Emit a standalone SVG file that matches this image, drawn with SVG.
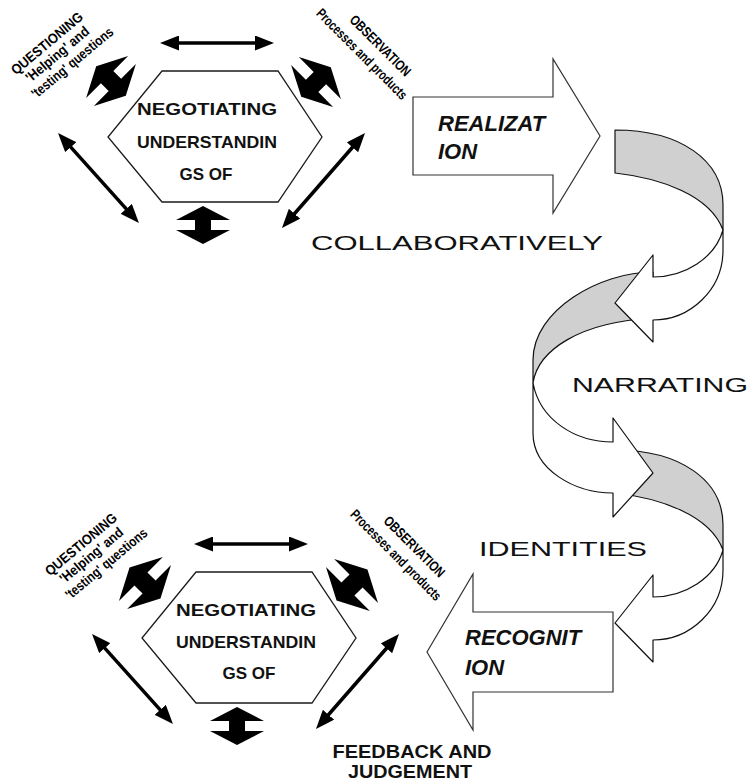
<svg xmlns="http://www.w3.org/2000/svg" width="752" height="783" viewBox="0 0 752 783">
<defs>
<style>
.hex{fill:#fff;stroke:#1a1a1a;stroke-width:1.3}
.ht{font-family:"Liberation Sans",Arial,sans-serif;font-weight:bold;font-size:17px;fill:#111;text-anchor:middle}
.lbl{font-family:"Liberation Sans",Arial,sans-serif;font-weight:bold;font-size:14px;fill:#000;text-anchor:middle}
.blk{fill:#fff;stroke:#333;stroke-width:1.2}
.bt{font-family:"Liberation Sans",Arial,sans-serif;font-weight:bold;font-style:italic;font-size:22px;fill:#111}
.word{font-family:"Liberation Sans",Arial,sans-serif;font-size:20px;fill:#111}
.fb{font-family:"Liberation Sans",Arial,sans-serif;font-weight:bold;font-size:18px;fill:#111;text-anchor:middle}
.rg{fill:#d0d0d0;stroke:#111;stroke-width:1.2;stroke-linejoin:round}
.rw{fill:#fff;stroke:#111;stroke-width:1.2;stroke-linejoin:round}
.dl{stroke:#000;stroke-width:3.5;fill:none}
.fat{fill:#000}
</style>
<marker id="ah" viewBox="0 0 19 15" refX="5" refY="7.5" markerWidth="19" markerHeight="15" markerUnits="userSpaceOnUse" orient="auto-start-reverse"><path d="M0,0 L19,7.5 L0,15 Z" fill="#000"/></marker>
<path id="fatArrow" d="M0,-19 L27,-5 L8,-5 L8,5 L27,5 L0,19 L-27,5 L-8,5 L-8,-5 L-27,-5 Z"/>
</defs>
<rect width="752" height="783" fill="#fff"/>

<!-- top cluster nodes -->
<g id="hexagon-top">
<polygon class="hex" points="162,71 278,71 322,137 278,202 162,202 108,137"/>
<text class="ht" x="207" y="115" textLength="140" lengthAdjust="spacingAndGlyphs">NEGOTIATING</text>
<text class="ht" x="207" y="148" textLength="140" lengthAdjust="spacingAndGlyphs">UNDERSTANDIN</text>
<text class="ht" x="206" y="180">GS OF</text>
</g>
<g id="questioning-top" transform="translate(50,47) rotate(-40)">
<text class="lbl" x="0" y="0" textLength="89" lengthAdjust="spacingAndGlyphs">QUESTIONING</text>
<text class="lbl" x="1" y="15" textLength="78" lengthAdjust="spacingAndGlyphs">'Helping' and</text>
<text class="lbl" x="7" y="31" textLength="102" lengthAdjust="spacingAndGlyphs">'testing' questions</text>
</g>
<g id="observation-top" transform="translate(377,49) rotate(45)">
<text class="lbl" x="0" y="0" textLength="80" lengthAdjust="spacingAndGlyphs">OBSERVATION</text>
<text class="lbl" x="-7" y="19" textLength="122" lengthAdjust="spacingAndGlyphs">Processes and products</text>
</g>

<!-- bottom cluster nodes -->
<g transform="translate(34,501)">
<g id="hexagon-bottom">
<polygon class="hex" points="162,71 278,71 322,137 278,202 162,202 108,137"/>
<text class="ht" x="212" y="115" textLength="140" lengthAdjust="spacingAndGlyphs">NEGOTIATING</text>
<text class="ht" x="212" y="147" textLength="140" lengthAdjust="spacingAndGlyphs">UNDERSTANDIN</text>
<text class="ht" x="215" y="178">GS OF</text>
</g>
<g id="questioning-bottom" transform="translate(50,47) rotate(-40)">
<text class="lbl" x="0" y="0" textLength="89" lengthAdjust="spacingAndGlyphs">QUESTIONING</text>
<text class="lbl" x="1" y="15" textLength="78" lengthAdjust="spacingAndGlyphs">'Helping' and</text>
<text class="lbl" x="7" y="31" textLength="102" lengthAdjust="spacingAndGlyphs">'testing' questions</text>
</g>
<g id="observation-bottom" transform="translate(377,49) rotate(45)">
<text class="lbl" x="0" y="0" textLength="80" lengthAdjust="spacingAndGlyphs">OBSERVATION</text>
<text class="lbl" x="-7" y="19" textLength="122" lengthAdjust="spacingAndGlyphs">Processes and products</text>
</g>
</g>

<!-- connectors -->
<g id="connectors">
<g id="connectors-top">
<line class="dl" x1="174" y1="43" x2="260" y2="43" marker-start="url(#ah)" marker-end="url(#ah)"/>
<line class="dl" x1="67.4" y1="143.4" x2="129.6" y2="212.6" marker-start="url(#ah)" marker-end="url(#ah)"/>
<line class="dl" x1="355.8" y1="143.5" x2="291.2" y2="217.5" marker-start="url(#ah)" marker-end="url(#ah)"/>
<use href="#fatArrow" class="fat" transform="translate(203,225)"/>
<use href="#fatArrow" class="fat" transform="translate(111,81) rotate(-45) scale(1.1)"/>
<use href="#fatArrow" class="fat" transform="translate(316,82) rotate(45) scale(1.1)"/>
</g>
<g id="connectors-bottom" transform="translate(34,501)">
<line class="dl" x1="174" y1="43" x2="260" y2="43" marker-start="url(#ah)" marker-end="url(#ah)"/>
<line class="dl" x1="67.4" y1="143.4" x2="129.6" y2="212.6" marker-start="url(#ah)" marker-end="url(#ah)"/>
<line class="dl" x1="355.8" y1="143.5" x2="291.2" y2="217.5" marker-start="url(#ah)" marker-end="url(#ah)"/>
<use href="#fatArrow" class="fat" transform="translate(203,225)"/>
<use href="#fatArrow" class="fat" transform="translate(111,82) rotate(-45) scale(1.15)"/>
<use href="#fatArrow" class="fat" transform="translate(318,84) rotate(45) scale(1.15)"/>
</g>
</g>

<!-- ribbon arrows (S-curve) -->
<g id="ribbon-3" transform="translate(0,320)">
<path class="rg" d="M615,130 C680,130 723,160 723,205 L723,230 C710,195 660,178 615,173 Z"/>
<path class="rw" d="M723,230 L723,250 C723,290 690,320 653,320 L653,342 L615,303 L653,255 L653,277 C685,277 715,258 723,230 Z"/>
</g>
<g id="ribbon-2">
<path class="rg" d="M653,272 C600,272 533,310 533,360 L533,383 C538,350 580,322 653,318 Z"/>
<path class="rw" d="M533,383 L533,433 C533,470 575,493 613,493 L613,517 L653,473 L613,418 L613,442 C575,442 540,420 533,383 Z"/>
</g>
<g id="ribbon-1">
<path class="rg" d="M615,130 C680,130 723,160 723,205 L723,230 C710,195 660,178 615,173 Z"/>
<path class="rw" d="M723,230 L723,250 C723,290 690,320 653,320 L653,342 L615,303 L653,255 L653,277 C685,277 715,258 723,230 Z"/>
</g>

<!-- block arrows -->
<g id="realization">
<path class="blk" d="M413,97 H553 V59 L600,136 L553,213 V175 H413 Z"/>
<text class="bt" x="438" y="131">REALIZAT</text>
<text class="bt" x="438" y="159">ION</text>
</g>
<g id="recognition">
<path class="blk" d="M613,612 H473 V574 L427,652 L473,730 V692 H613 Z"/>
<text class="bt" x="465" y="645">RECOGNIT</text>
<text class="bt" x="465" y="675">ION</text>
</g>

<!-- free labels -->
<g id="labels">
<text class="word" x="311" y="250" font-size="21" textLength="292" lengthAdjust="spacingAndGlyphs">COLLABORATIVELY</text>
<text class="word" x="572" y="392" textLength="176" lengthAdjust="spacingAndGlyphs">NARRATING</text>
<text class="word" x="479" y="556" font-size="19" textLength="168" lengthAdjust="spacingAndGlyphs">IDENTITIES</text>
<text class="fb" x="412" y="758" textLength="159" lengthAdjust="spacingAndGlyphs">FEEDBACK AND</text>
<text class="fb" x="410" y="778" textLength="124" lengthAdjust="spacingAndGlyphs">JUDGEMENT</text>
</g>
</svg>
